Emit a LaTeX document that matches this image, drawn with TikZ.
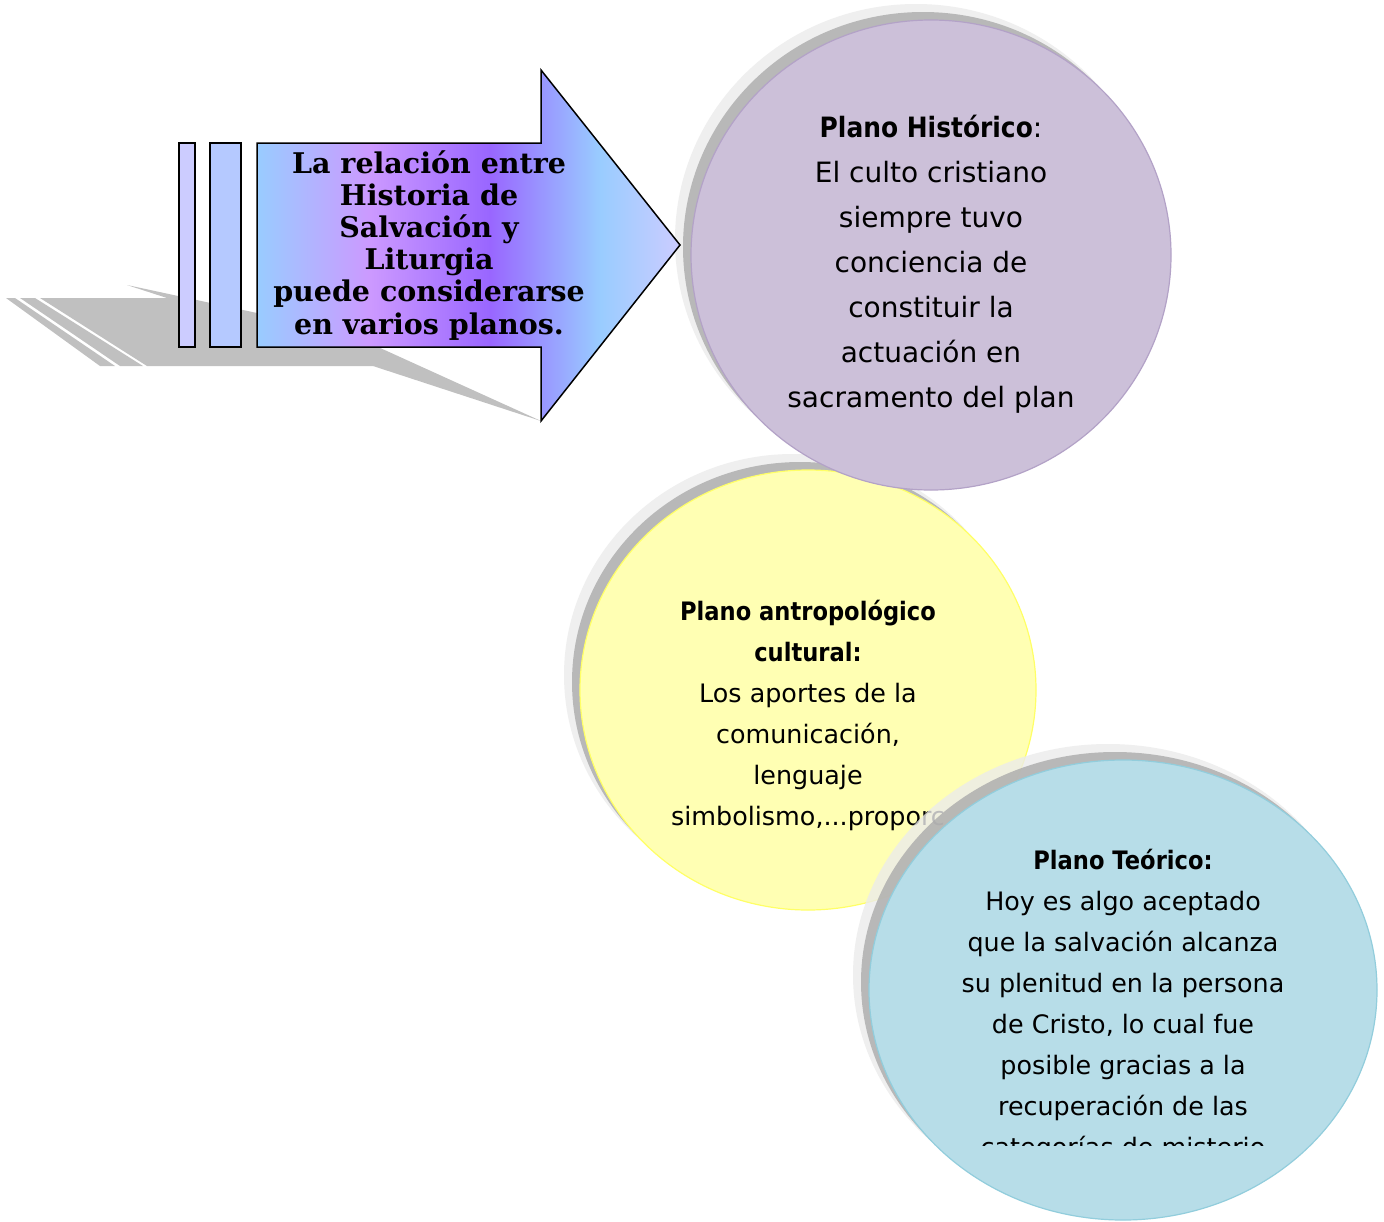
\documentclass[tikz,border=0pt]{standalone}
\usepackage{fontspec}
\usepackage{graphicx}
\setmainfont{DejaVu Sans}
\newfontfamily\arrowfont{DejaVu Serif}
\usetikzlibrary{shapes.geometric}
\definecolor{histfill}{HTML}{CCC0D9}
\definecolor{histline}{HTML}{B3A2C7}
\definecolor{antfill}{HTML}{FFFFB3}
\definecolor{antline}{HTML}{FFFF66}
\definecolor{teofill}{HTML}{B7DDE8}
\definecolor{teoline}{HTML}{92CDDC}
\definecolor{shdark}{HTML}{ABABAB}
\definecolor{shlight}{HTML}{EBEBEB}
\definecolor{shgray}{HTML}{C0C0C0}
\definecolor{arA}{HTML}{99CCFF}
\definecolor{arB}{HTML}{CC99FF}
\definecolor{arC}{HTML}{9966FF}
\definecolor{arD}{HTML}{CCCCFF}
\definecolor{barA}{HTML}{CCCCFF}
\definecolor{barB}{HTML}{B5C9FF}
\pgfdeclarehorizontalshading{arrowshade}{100bp}{color(0bp)=(arA); color(25bp)=(arA); color(38.4bp)=(arB); color(52.5bp)=(arC); color(65.5bp)=(arA); color(75bp)=(arD); color(100bp)=(arD)}
\newcommand\bsq[1]{\scalebox{0.89}[1]{\bfseries #1}}
\newcommand\simbline{simbolismo,...proporc}
\tikzset{
  plane/.style={ellipse, inner sep=0pt, line width=1.2pt},
  shlightstyle/.style={fill=shlight, opacity=0.8},
  shdarkstyle/.style={fill=shdark, opacity=0.8},
  bigtxt/.style={anchor=base, inner sep=0pt, font=\fontsize{28}{34}\selectfont},
  midtxt/.style={anchor=base, inner sep=0pt, font=\fontsize{25.4}{30}\selectfont},
  arrtxt/.style={anchor=base, inner sep=0pt, font=\arrowfont\bfseries\fontsize{28.5}{32}\selectfont},
  outline/.style={draw=black, line width=1.5pt, line join=miter},
}
\begin{document}
\begin{tikzpicture}[x=1pt,y=-1pt]
\useasboundingbox (0,0) rectangle (1384,1221);
\fill[white] (0,0) rectangle (1384,1221);

% ---------- yellow circle ----------
\fill[shlightstyle] (808-15,690-15) ellipse [x radius=229, y radius=221];
\fill[shdarkstyle] (808-8,690-8) ellipse [x radius=228, y radius=220];
\node[plane, draw=antline, fill=antfill, minimum width=456pt, minimum height=440pt] (ant) at (808,690) {};
\foreach \t [count=\i] in {{Plano antropológico},{cultural:}}
  \node[midtxt] (antb\i) at (808,620+41*\i-41) {\bsq{\t}};
\foreach \t [count=\i] in {{Los aportes de la},{comunicación,},{lenguaje},\simbline}
  \node[midtxt] (ant\i) at (808,702+41*\i-41) {\t};

% ---------- purple circle ----------
\fill[shlightstyle] (931-15,255-15) ellipse [x radius=241, y radius=236];
\fill[shdarkstyle] (931-8,255-8) ellipse [x radius=240, y radius=235];
\node[plane, draw=histline, fill=histfill, minimum width=480pt, minimum height=470pt] (hist) at (931,255) {};
\node[bigtxt] (histb) at (931,137) {\bsq{Plano Histórico}:};
\foreach \t [count=\i] in {{El culto cristiano},{siempre tuvo},{conciencia de},{constituir la},{actuación en},{sacramento del plan}}
  \node[bigtxt] (hist\i) at (931,137+45*\i) {\t};

% ---------- blue circle ----------
\fill[shlightstyle] (1123-15,990-15) ellipse [x radius=255, y radius=231];
\fill[shdarkstyle] (1123-8,990-8) ellipse [x radius=254, y radius=230];
\node[plane, draw=teoline, fill=teofill, minimum width=508pt, minimum height=460pt] (teo) at (1123,990) {};
\begin{scope}
\clip (860,760) rectangle (1384,1145);
\node[midtxt] (teob) at (1123,869) {\bsq{Plano Teórico:}};
\foreach \t [count=\i] in {{Hoy es algo aceptado},{que la salvación alcanza},{su plenitud en la persona},{de Cristo, lo cual fue},{posible gracias a la},{recuperación de las},{categorías de misterio}}
  \node[midtxt] (teo\i) at (1123,869+41*\i) {\t};
\end{scope}

% ---------- arrow shadow ----------
\fill[shgray] (6,298) -- (15,298) -- (115,366) -- (100,366) -- cycle;
\fill[shgray] (20,298) -- (35,298) -- (143,366) -- (120,366) -- cycle;
\fill[shgray] (40,298) -- (167,298) -- (127,285) -- (257,313) -- (257,347) -- (378,347) -- (541,421) -- (373,366) -- (147,366) -- cycle;

% ---------- arrow ----------
\draw[outline, fill=barA] (179,143) rectangle (195,347);
\draw[outline, fill=barB] (210,143) rectangle (241,347);
\shade[shading=arrowshade] (257,143) -- (541,143) -- (541,70) -- (680,245) -- (541,421) -- (541,347) -- (257,347) -- cycle;
\draw[outline] (257,143) -- (541,143) -- (541,70) -- (680,245) -- (541,421) -- (541,347) -- (257,347) -- cycle;
\foreach \t [count=\i] in {{La relación entre},{Historia de},{Salvación y},{Liturgia},{puede considerarse},{en varios planos.}}
  \node[arrtxt] (arr\i) at (429,173+32.2*\i-32.2) {\t};
\end{tikzpicture}
\end{document}
